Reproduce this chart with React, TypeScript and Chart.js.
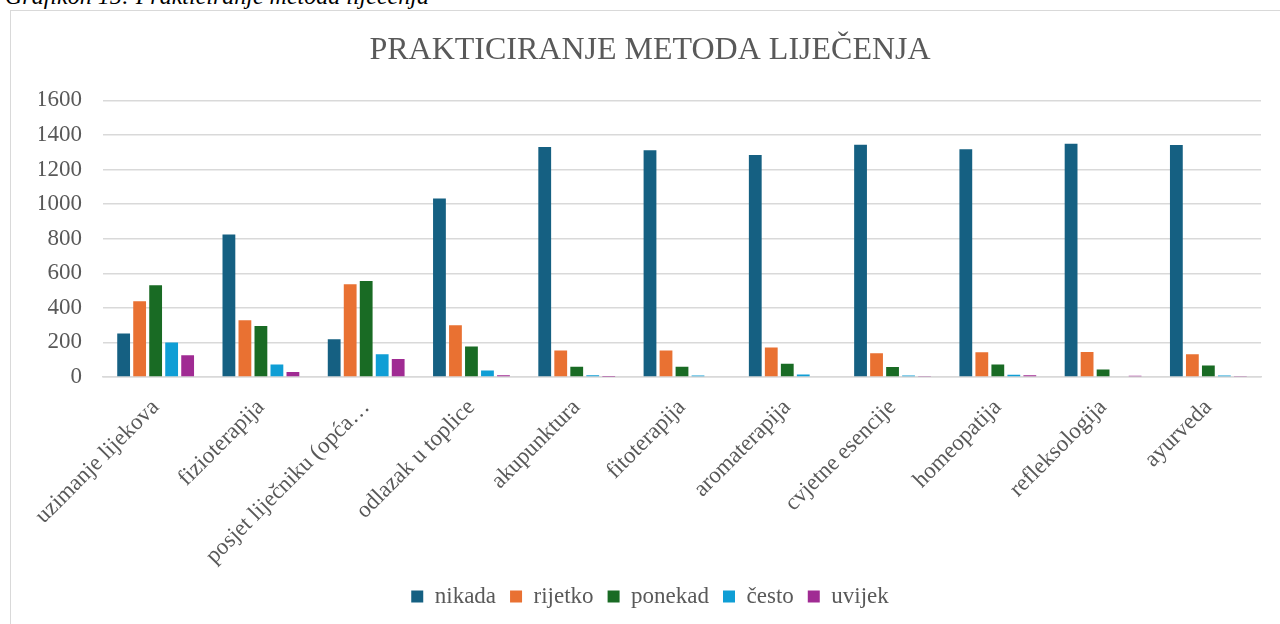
import React, { useEffect, useRef } from "react";
import { Chart, registerables } from "chart.js";

Chart.register(...registerables);

const categories = [
  "uzimanje lijekova",
  "fizioterapija",
  "posjet liječniku (opća…",
  "odlazak u toplice",
  "akupunktura",
  "fitoterapija",
  "aromaterapija",
  "cvjetne esencije",
  "homeopatija",
  "refleksologija",
  "ayurveda",
];

const nikada = [251, 824, 218, 1033, 1330, 1311, 1284, 1343, 1317, 1349, 1342];
const rijetko = [438, 328, 537, 299, 153, 153, 170, 137, 143, 145, 131];
const ponekad = [531, 295, 556, 176, 60, 60, 77, 58, 72, 44, 66];
const cesto = [199, 72, 131, 37, 10, 8, 15, 8, 13, 4, 8];
const uvijek = [126, 29, 104, 10, 2, 0, 4, 3, 10, 7, 3];

const seriesNames = ["nikada", "rijetko", "ponekad", "često", "uvijek"];
const seriesColors = ["#156082", "#E97132", "#196B24", "#0F9ED5", "#A02B93"];
const seriesValues = [nikada, rijetko, ponekad, cesto, uvijek];

const chartTitle = "PRAKTICIRANJE METODA LIJEČENJA";
const captionText = "Grafikon 15: Prakticiranje metoda liječenja";
const yTicks = { min: 0, max: 1600, step: 200 };

const FONT = "'Liberation Serif', 'Times New Roman', serif";
const TEXT = "#595959";

Chart.defaults.font.family = FONT;
Chart.defaults.color = TEXT;

export default function App() {
  const ref = useRef<HTMLCanvasElement | null>(null);

  useEffect(() => {
    if (!ref.current) return;
    const chart = new Chart(ref.current, {
      type: "bar",
      data: {
        labels: categories,
        datasets: seriesNames.map((name, i) => ({
          label: name,
          data: seriesValues[i],
          backgroundColor: seriesColors[i],
          borderWidth: 0,
          categoryPercentage: 0.76,
          barPercentage: 0.8,
        })),
      },
      options: {
        animation: false,
        responsive: false,
        maintainAspectRatio: false,
        devicePixelRatio: 1,
        layout: { padding: { left: 28, right: 19, top: 0, bottom: 6 } },
        plugins: {
          title: {
            display: true,
            text: chartTitle,
            color: TEXT,
            font: { family: FONT, size: 32, weight: "normal" as any, lineHeight: 1.2 },
            padding: { top: 20, bottom: 31 },
          },
          legend: {
            display: true,
            position: "bottom",
            labels: {
              color: TEXT,
              font: { family: FONT, size: 23, weight: "normal" as any },
              boxWidth: 12,
              boxHeight: 12,
              padding: 14,
            },
          },
          tooltip: { enabled: false },
        },
        scales: {
          x: {
            grid: { display: false, drawTicks: false },
            border: { display: true, color: "#d9d9d9", width: 1.5 },
            ticks: {
              color: TEXT,
              font: { family: FONT, size: 23 },
              minRotation: 45,
              maxRotation: 45,
              autoSkip: false,
              padding: 17,
              labelOffset: 0,
            },
            afterFit: (s: any) => {
              s.height = 194;
            },
          },
          y: {
            min: yTicks.min,
            max: yTicks.max,
            grid: { color: "#d9d9d9", lineWidth: 1.5, drawTicks: false },
            border: { display: false },
            ticks: {
              stepSize: yTicks.step,
              color: TEXT,
              font: { family: FONT, size: 23 },
              padding: 21,
              callback: (v: any) => String(v),
            },
            afterFit: (s: any) => {
              s.width = 64;
            },
          },
        },
      },
    });
    return () => chart.destroy();
  }, []);

  return (
    <div
      style={{
        position: "fixed",
        left: 0,
        top: 0,
        width: 1280,
        height: 624,
        overflow: "hidden",
        background: "#fff",
      }}
    >
      <div
        style={{
          position: "absolute",
          left: 5,
          top: -16,
          fontFamily: FONT,
          fontStyle: "italic",
          fontSize: 24,
          lineHeight: "24px",
          color: "#000",
          whiteSpace: "nowrap",
        }}
      >
        {captionText}
      </div>
      <div
        style={{
          position: "absolute",
          left: 10,
          top: 10,
          width: 1300,
          height: 700,
          borderLeft: "1px solid #d9d9d9",
          borderTop: "1px solid #d9d9d9",
        }}
      />
      <canvas
        ref={ref}
        width={1269}
        height={613}
        style={{ position: "absolute", left: 11, top: 11, width: 1269, height: 613 }}
      />
    </div>
  );
}
